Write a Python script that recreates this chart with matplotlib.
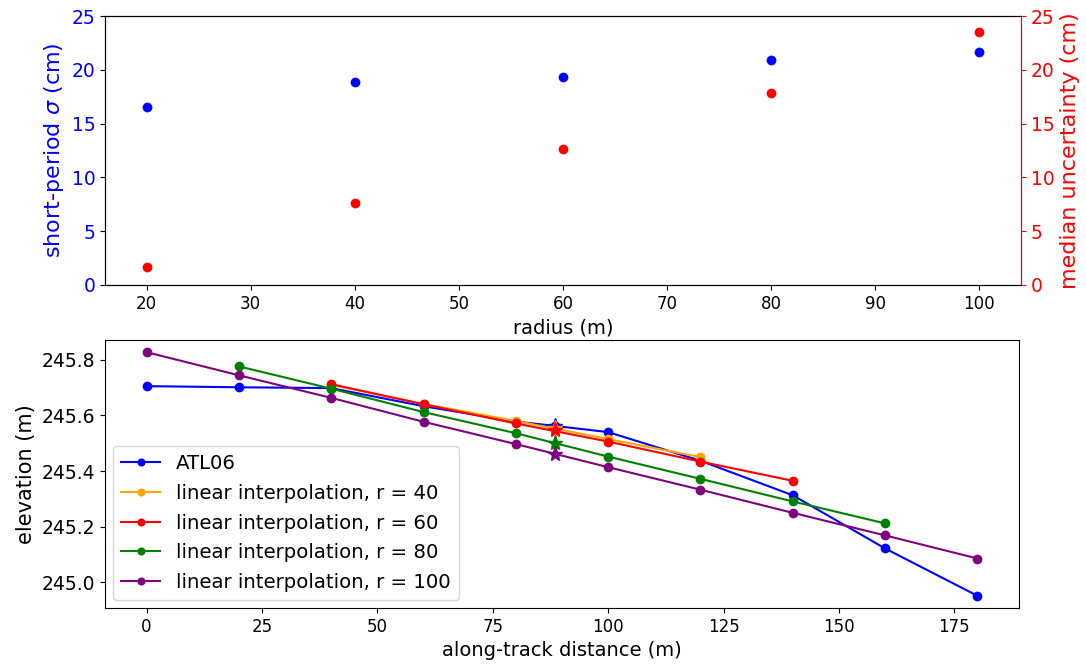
import numpy as np
import matplotlib.pyplot as plt

# %% data - top panel
radius = [20, 40, 60, 80, 100]
sigma_short = [16.5, 18.9, 19.3, 20.9, 21.7]
median_unc = [1.7, 7.6, 12.6, 17.8, 23.5]

# %% data - bottom panel
x_star = 88.5
atl06_x = [0, 20, 40, 60, 80, x_star, 100, 120, 140, 160, 180]
atl06_h = [245.705, 245.701, 245.698, 245.633, 245.578, 245.562, 245.540,
           245.437, 245.313, 245.122, 244.952]

r40_x = [40, 60, 80, 100, 120]
r40_h = [245.710, 245.641, 245.580, 245.515, 245.450]
r40_star = 245.556

r60_x = [40, 60, 80, 100, 120, 140]
r60_h = [245.712, 245.640, 245.571, 245.506, 245.434, 245.365]
r60_star = 245.548

r80_x = [20, 40, 60, 80, 100, 120, 140, 160]
r80_h = [245.776, 245.696, 245.612, 245.536, 245.452, 245.372, 245.291, 245.212]
r80_star = 245.500

r100_x = [0, 20, 40, 60, 80, 100, 120, 140, 160, 180]
r100_h = [245.827, 245.744, 245.663, 245.577, 245.497, 245.414, 245.333,
          245.250, 245.169, 245.086]
r100_star = 245.462

# %% plot
fig = plt.figure(figsize=(10.86, 6.64), dpi=100)
ax1 = fig.add_axes([105/1086, 1-285/664, (1021-105)/1086, (285-16)/664])
ax3 = fig.add_axes([105/1086, 1-608/664, (1019-105)/1086, (608-340)/664])

# top: two y axes
ax1.scatter(radius, sigma_short, color='blue', s=36, zorder=3)
ax1.set_ylim(0, 25)
ax1.set_ylabel(r'short-period $\sigma$ (cm)', color='blue', fontsize=16)
ax1.tick_params(axis='y', labelcolor='blue', labelsize=13.5)
ax1.tick_params(axis='x', labelsize=12)
ax1.set_xlabel('radius (m)', fontsize=14)

ax2 = ax1.twinx()
ax2.scatter(radius, median_unc, color='red', s=36, zorder=3)
ax2.set_ylim(0, 25)
ax2.set_ylabel('median uncertainty (cm)', color='red', fontsize=16)
ax2.tick_params(axis='y', colors='red', labelsize=13.5)
ax2.spines['right'].set_color('red')

# bottom: elevation profiles
ms = 6
ax3.plot(atl06_x, atl06_h, '-o', color='blue', markersize=ms, label='ATL06')
ax3.plot(r40_x, r40_h, '-o', color='orange', markersize=ms,
         label='linear interpolation, r = 40')
ax3.plot(r60_x, r60_h, '-o', color='red', markersize=ms,
         label='linear interpolation, r = 60')
ax3.plot(r80_x, r80_h, '-o', color='green', markersize=ms,
         label='linear interpolation, r = 80')
ax3.plot(r100_x, r100_h, '-o', color='purple', markersize=ms,
         label='linear interpolation, r = 100')

# interpolated value at the star location
ax3.plot(x_star, atl06_h[5], '*', color='blue', markersize=11)
ax3.plot(x_star, r40_star, '*', color='orange', markersize=11)
ax3.plot(x_star, r60_star, '*', color='red', markersize=11)
ax3.plot(x_star, r80_star, '*', color='green', markersize=11)
ax3.plot(x_star, r100_star, '*', color='purple', markersize=11)

ax3.set_xticks(np.arange(0, 176, 25))
ax3.set_yticks([245.0, 245.2, 245.4, 245.6, 245.8])
ax3.tick_params(axis='x', labelsize=12)
ax3.tick_params(axis='y', labelsize=13.5)
ax3.set_xlabel('along-track distance (m)', fontsize=14)
ax3.set_ylabel('elevation (m)', fontsize=15)
ax3.legend(loc='lower left', fontsize=14.2, markerscale=0.8,
           labelspacing=0.55, borderaxespad=0.4)

fig.savefig('out.png', dpi=100)
